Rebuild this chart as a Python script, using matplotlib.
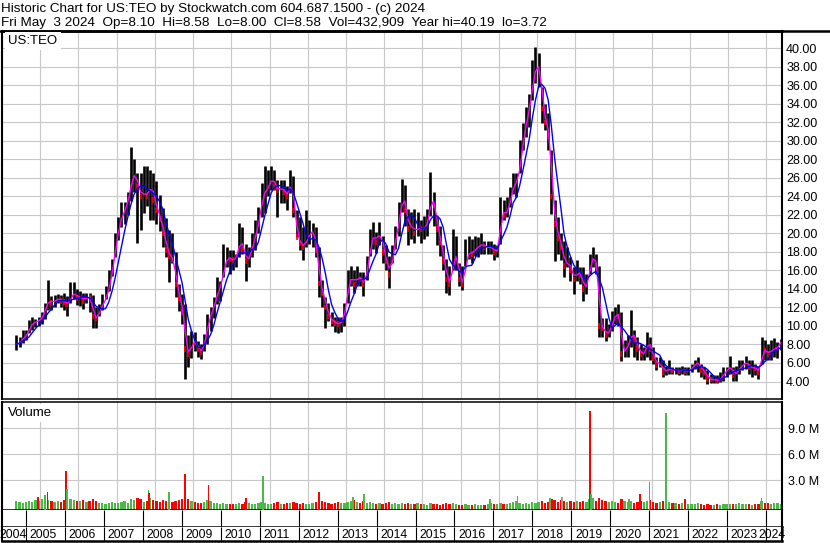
import matplotlib
matplotlib.use("Agg")
import matplotlib.pyplot as plt
import numpy as np
import pandas as pd

plt.rcParams["font.family"] = ["Liberation Sans", "DejaVu Sans"]

# ---- values: one bar per month, May 2004 .. May 2024 ----
start_year, start_month = 2004, 5

highs = [
    9.0, 8.8, 9.6, 9.6, 10.6, 11.0, 10.8, 11.0,                          # 2004
    11.5, 12.5, 15.0, 13.2, 13.4, 13.5, 13.4, 13.6, 13.2, 14.7, 14.7, 14.0,  # 2005
    13.8, 13.6, 13.6, 13.6, 13.3, 12.1, 12.4, 13.5, 14.3, 16.0, 17.2, 20.0,  # 2006
    21.8, 23.4, 23.4, 24.5, 29.3, 28.0, 26.5, 26.5, 27.3, 27.3, 26.9, 26.5,  # 2007
    25.7, 24.2, 22.8, 21.7, 20.4, 20.0, 18.0, 14.5, 13.5, 12.4, 9.0, 9.5,    # 2008
    9.3, 8.4, 8.0, 9.1, 11.3, 12.0, 13.1, 15.3, 14.9, 18.9, 18.5, 18.2,      # 2009
    18.2, 17.8, 21.1, 20.7, 18.9, 18.5, 20.0, 21.5, 22.9, 25.5, 27.3, 26.9,  # 2010
    27.3, 26.9, 25.8, 25.8, 25.8, 25.1, 26.9, 26.2, 22.5, 21.8, 20.7, 22.5,  # 2011
    21.5, 21.1, 20.7, 18.5, 15.0, 13.1, 12.5, 11.5, 11.0, 11.0, 11.0, 12.5,  # 2012
    16.1, 16.5, 16.1, 16.5, 15.8, 15.8, 17.6, 20.5, 21.2, 20.1, 21.2, 19.7,  # 2013
    18.7, 17.6, 18.7, 20.8, 23.4, 25.9, 25.2, 22.6, 22.3, 22.6, 22.3, 21.5,  # 2014
    21.9, 22.6, 26.6, 24.5, 21.9, 20.8, 18.7, 17.2, 16.5, 20.5, 19.7, 16.8,  # 2015
    16.5, 19.4, 19.7, 19.4, 19.7, 19.6, 20.0, 19.2, 19.2, 19.2, 18.9, 18.7,  # 2016
    23.9, 23.6, 23.9, 25.0, 26.5, 26.5, 30.1, 31.9, 33.7, 35.1, 38.7, 40.19,  # 2017
    39.5, 35.8, 34.0, 33.0, 29.0, 23.6, 21.8, 20.0, 19.2, 18.5, 17.4, 16.4,  # 2018
    17.1, 16.4, 16.4, 15.6, 17.8, 18.5, 17.8, 16.5, 10.9, 10.9, 10.2, 11.6,  # 2019
    12.0, 12.4, 11.5, 8.5, 9.0, 11.7, 9.6, 8.8, 8.1, 7.7, 9.4, 8.8,          # 2020
    7.7, 6.7, 6.7, 6.3, 5.7, 6.3, 5.6, 5.6, 5.6, 5.7, 5.6, 5.6,              # 2021
    5.9, 6.3, 6.7, 5.9, 5.6, 5.2, 4.8, 4.7, 4.7, 5.0, 5.6, 5.6,              # 2022
    6.8, 5.6, 5.7, 6.3, 6.3, 6.8, 6.3, 6.3, 5.9, 5.7, 8.8, 8.5,              # 2023
    8.1, 8.5, 8.7, 8.3, 8.6,                                                 # 2024
]
lows = [
    7.4, 7.7, 8.2, 8.5, 9.2, 9.6, 9.9, 10.0,
    10.2, 10.8, 11.7, 11.7, 12.1, 12.5, 12.1, 11.7, 11.1, 12.5, 12.9, 12.3,
    12.2, 11.8, 12.5, 11.5, 9.8, 9.8, 11.1, 11.7, 12.9, 13.8, 15.4, 17.5,
    19.3, 20.7, 21.0, 22.0, 23.5, 24.5, 19.0, 20.4, 22.2, 23.0, 21.5, 21.5,
    21.0, 20.3, 18.5, 17.5, 14.7, 16.8, 13.1, 11.6, 10.2, 4.3, 5.6, 6.5,
    7.3, 6.6, 6.4, 7.3, 8.0, 9.5, 10.9, 12.4, 12.7, 15.3, 16.4, 15.6,
    16.0, 16.4, 17.5, 17.8, 14.9, 16.4, 17.5, 18.2, 20.0, 21.8, 22.2, 24.0,
    24.7, 24.7, 21.8, 23.3, 23.3, 22.5, 24.4, 21.8, 19.6, 18.2, 17.1, 18.5,
    18.9, 18.5, 17.5, 13.1, 12.0, 9.8, 10.5, 10.0, 9.3, 9.2, 9.4, 10.0,
    12.5, 14.3, 13.6, 14.3, 14.3, 13.2, 15.0, 17.6, 18.3, 17.9, 18.7, 16.8,
    16.1, 14.1, 16.8, 18.3, 19.7, 22.3, 20.8, 18.7, 19.4, 19.0, 19.7, 19.0,
    19.4, 19.7, 21.9, 20.8, 18.7, 17.6, 16.1, 13.6, 13.4, 16.1, 16.1, 14.3,
    13.9, 16.5, 17.2, 16.8, 17.6, 17.4, 17.8, 17.8, 17.8, 17.8, 17.1, 17.4,
    18.9, 21.4, 21.8, 22.9, 24.3, 23.9, 26.5, 29.0, 30.4, 31.5, 34.4, 36.2,
    35.8, 31.9, 31.2, 29.0, 22.1, 17.0, 17.8, 17.1, 15.3, 16.4, 14.9, 13.5,
    14.9, 14.5, 12.7, 13.5, 15.6, 16.4, 15.6, 8.8, 8.8, 8.4, 8.8, 9.5,
    10.2, 10.0, 6.2, 6.6, 6.7, 7.7, 6.7, 6.3, 6.3, 6.3, 6.7, 6.3,
    5.9, 5.2, 5.6, 4.5, 4.7, 4.8, 4.8, 4.8, 4.7, 4.8, 4.7, 4.7,
    5.0, 5.4, 5.0, 4.5, 4.3, 3.72, 3.8, 3.8, 3.8, 3.9, 4.1, 4.5,
    4.8, 4.1, 4.1, 4.8, 5.2, 5.4, 4.8, 4.5, 4.7, 4.3, 5.9, 6.3,
    6.3, 6.3, 6.7, 6.5, 7.4,
]
closes = [
    8.0, 8.3, 8.8, 9.0, 10.0, 10.3, 10.5, 10.6,
    11.0, 12.2, 12.8, 12.5, 12.8, 13.0, 12.7, 12.6, 12.3, 13.3, 13.6, 13.0,
    13.2, 12.7, 13.2, 13.0, 11.0, 10.8, 11.8, 12.5, 13.2, 14.5, 16.5, 19.0,
    21.0, 22.0, 22.8, 24.0, 26.0, 26.5, 25.0, 24.0, 24.5, 24.0, 25.5, 23.6,
    22.5, 21.5, 20.0, 18.2, 17.5, 17.2, 14.5, 13.0, 11.5, 7.5, 6.9, 8.4,
    8.2, 7.5, 7.2, 8.7, 10.5, 11.5, 12.5, 13.8, 14.5, 16.5, 17.5, 17.2,
    17.1, 17.5, 19.6, 18.2, 17.0, 17.5, 19.0, 20.0, 21.8, 24.0, 24.7, 25.1,
    26.2, 25.0, 24.7, 24.9, 24.5, 24.0, 26.0, 22.5, 19.6, 18.9, 18.5, 19.5,
    20.0, 20.4, 18.2, 14.6, 13.5, 12.0, 11.0, 10.5, 10.3, 10.2, 10.5, 12.0,
    14.5, 15.5, 14.5, 15.5, 15.0, 14.5, 16.5, 19.0, 20.0, 19.0, 20.5, 18.0,
    17.0, 15.5, 18.0, 20.0, 21.5, 24.5, 22.5, 20.5, 21.0, 20.0, 20.8, 20.5,
    20.5, 21.5, 24.0, 23.0, 20.5, 19.0, 17.0, 15.0, 14.5, 17.5, 17.5, 15.0,
    14.5, 17.5, 18.0, 17.8, 18.5, 18.5, 19.0, 18.5, 18.5, 18.5, 18.0, 18.2,
    22.5, 22.0, 22.5, 24.0, 25.5, 25.5, 28.0, 30.5, 32.5, 34.0, 37.0, 38.0,
    38.0, 33.5, 32.0, 30.5, 24.0, 21.0, 19.5, 18.5, 16.5, 17.0, 16.0, 15.0,
    16.0, 15.5, 14.0, 14.5, 17.0, 17.5, 16.5, 10.0, 9.8, 9.0, 9.5, 10.5,
    11.5, 11.0, 7.0, 7.5, 8.0, 9.5, 8.5, 7.5, 7.0, 7.0, 8.5, 7.5,
    6.5, 5.8, 6.0, 5.0, 5.3, 5.3, 5.2, 5.3, 5.1, 5.3, 5.1, 5.2,
    5.5, 6.0, 6.0, 5.2, 5.0, 4.3, 4.2, 4.2, 4.1, 4.3, 5.0, 5.2,
    5.8, 4.7, 5.0, 5.6, 5.8, 6.2, 5.5, 5.5, 5.4, 5.0, 7.5, 7.3,
    7.0, 7.5, 7.5, 7.8, 8.58,
]
# typical daily volume in each month, millions of shares
volumes = [
    0.6, 0.5, 0.4, 0.5, 0.6, 0.5, 0.7, 0.6,
    0.8, 0.9, 0.7, 0.6, 0.5, 0.6, 0.5, 0.7, 0.9, 0.8, 0.7, 0.6,
    0.6, 0.7, 0.5, 0.6, 0.8, 0.6, 0.4, 0.4, 0.3, 0.4, 0.5, 0.4,
    0.4, 0.5, 0.6, 0.4, 0.8, 0.7, 0.9, 0.8, 0.5, 0.6, 1.0, 0.7,
    0.6, 0.5, 0.7, 0.6, 0.8, 0.5, 0.6, 0.7, 0.8, 1.0, 0.8, 0.6,
    0.5, 0.4, 0.4, 0.5, 0.7, 0.6, 0.4, 0.4, 0.3, 0.4, 0.3, 0.3,
    0.3, 0.3, 0.4, 0.3, 0.5, 0.4, 0.3, 0.3, 0.4, 0.5, 0.4, 0.3,
    0.3, 0.4, 0.5, 0.3, 0.3, 0.4, 0.4, 0.5, 0.4, 0.3, 0.4, 0.3,
    0.3, 0.4, 0.5, 0.8, 0.6, 0.5, 0.4, 0.3, 0.4, 0.5, 0.4, 0.4,
    0.5, 0.6, 0.7, 0.5, 0.4, 0.6, 0.4, 0.5, 0.4, 0.3, 0.4, 0.3,
    0.4, 0.5, 0.3, 0.4, 0.3, 0.4, 0.3, 0.4, 0.3, 0.3, 0.4, 0.3,
    0.3, 0.2, 0.4, 0.3, 0.3, 0.2, 0.3, 0.4, 0.3, 0.4, 0.3, 0.2,
    0.2, 0.3, 0.2, 0.2, 0.3, 0.2, 0.2, 0.2, 0.3, 0.4, 0.3, 0.3,
    0.4, 0.3, 0.3, 0.4, 0.5, 0.6, 0.4, 0.3, 0.4, 0.3, 0.5, 0.4,
    0.5, 0.6, 0.4, 0.5, 0.8, 0.7, 0.5, 0.7, 0.6, 0.5, 0.6, 0.5,
    0.6, 0.5, 0.6, 0.5, 0.8, 0.9, 0.6, 1.0, 0.7, 0.6, 0.5, 0.6,
    0.5, 0.4, 0.8, 0.6, 0.5, 0.6, 0.4, 0.5, 0.6, 0.5, 0.6, 0.7,
    0.5, 0.4, 0.5, 0.6, 0.7, 0.5, 0.4, 0.4, 0.3, 0.4, 0.5, 0.3,
    0.3, 0.3, 0.4, 0.3, 0.2, 0.3, 0.2, 0.2, 0.3, 0.2, 0.3, 0.3,
    0.3, 0.3, 0.3, 0.4, 0.3, 0.3, 0.3, 0.2, 0.3, 0.3, 0.6, 0.4,
    0.4, 0.3, 0.4, 0.4, 0.3,
]
# single days with unusual volume
spike_dates = ["2004-12-10", "2005-02-15", "2005-03-10", "2005-09-05", "2005-09-12",
               "2007-11-01", "2007-11-08", "2008-05-12", "2008-10-13", "2009-05-28",
               "2010-05-18", "2010-10-27", "2012-04-16", "2013-03-11", "2013-06-20",
               "2016-10-05", "2017-06-28", "2018-05-04", "2018-08-24", "2019-05-22",
               "2019-06-01", "2020-05-26", "2020-09-12", "2020-12-10", "2021-05-19",
               "2021-11-17", "2023-11-14"]
spike_volumes = [1.1, 1.3, 1.6, 4.1, 2.0,
                 1.9, 1.5, 1.6, 3.7, 2.5,
                 1.0, 3.5, 1.7, 1.1, 1.4,
                 0.85, 1.2, 1.0, 1.1, 11.0,
                 1.4, 0.8, 1.4, 2.8, 10.8,
                 0.85, 1.0]
spike_moves = ["down", "up", "down", "down", "up",
               "up", "down", "up", "down", "down",
               "down", "up", "down", "up", "up",
               "up", "up", "up", "flat", "down",
               "up", "up", "down", "up", "up",
               "down", "up"]

years = list(range(2004, 2025))
price_ticks = list(range(4, 42, 2))
volume_ticks = [3, 6, 9]

title_1 = "Historic Chart for US:TEO by Stockwatch.com 604.687.1500 - (c) 2024"
title_2 = ("Fri May  3 2024  Op=8.10  Hi=8.58  Lo=8.00  Cl=8.58  "
           "Vol=432,909  Year hi=40.19  lo=3.72")

W, H = 830, 543
PX_PER_YEAR = 38.95
GRID = "#c8c8c8"
COLORS = {"up": "#4cb848", "down": "#ff0000", "flat": "#a0a0a0"}


def px_to_year(px):
    # the 2005 line sits 26 px from the left edge of the picture
    return 2005 + (px - 26) / PX_PER_YEAR


def box(left, top, right, bottom):
    return [left / W, 1 - bottom / H, (right - left) / W, (bottom - top) / H]


def frame(ax, top=1.0, bottom=1.0, side=1.5):
    for name, lw in (("top", top), ("bottom", bottom), ("left", side), ("right", side)):
        ax.spines[name].set_visible(lw > 0)
        ax.spines[name].set_linewidth(lw)
        ax.spines[name].set_color("black")


n = len(closes)
t = start_year + (start_month - 1 + np.arange(n) + 0.5) / 12
closes_s = pd.Series(closes)
fast = closes_s.rolling(2, min_periods=1).mean()
slow = closes_s.rolling(5, min_periods=1).mean()
change = closes_s.diff().fillna(0)

spike_t = [d.year + (d.dayofyear - 0.5) / 365 for d in pd.to_datetime(spike_dates)]

xlim = (px_to_year(2), px_to_year(782))

fig = plt.figure(figsize=(W / 100, H / 100), dpi=100)

# ---- price panel ----
ax = fig.add_axes(box(2, 31, 782, 399))
ax.set_xlim(*xlim)
ax.set_ylim(2.11, 41.87)
ax.set_xticks(years)
ax.set_yticks(price_ticks)
ax.set_yticklabels([f"{v:.2f}" for v in price_ticks])
ax.yaxis.tick_right()
ax.tick_params(axis="x", length=0, labelbottom=False)
ax.tick_params(axis="y", length=0, pad=3, labelsize=9)
ax.grid(True, color=GRID, linewidth=0.8)
ax.set_axisbelow(True)
frame(ax, top=1.8, bottom=1.1)

ax.vlines(t, lows, highs, colors="black", linewidth=1.9, zorder=2)
down = change < 0
ax.vlines(t[down], closes_s[down] - 0.3, closes_s[down] + 0.3,
          colors="red", linewidth=1.2, zorder=2.5)
ax.plot(t, fast, color="#ff00ff", linewidth=1.0, zorder=3)
ax.plot(t, slow, color="#0000ff", linewidth=1.0, zorder=4)

fig.text(8 / W, 1 - 41 / H, "US:TEO", fontsize=9.5, va="center", ha="left",
         bbox=dict(facecolor="white", edgecolor="none", pad=2.5))

# ---- volume panel ----
axv = fig.add_axes(box(2, 402, 782, 510))
axv.set_xlim(*xlim)
vbottom, vtop = -0.43, 12.03
axv.set_ylim(vbottom, vtop)
axv.set_xticks(years)
axv.set_yticks(volume_ticks)
axv.set_yticklabels([f"{v:.1f} M" for v in volume_ticks])
axv.yaxis.tick_right()
axv.tick_params(axis="x", length=0, labelbottom=False)
axv.tick_params(axis="y", length=0, pad=4, labelsize=9)
axv.grid(True, color=GRID, linewidth=0.8)
axv.set_axisbelow(True)
frame(axv, top=1.1, bottom=1.1)

vol_colors = [COLORS["up"] if c >= 0 else COLORS["down"] for c in change]
axv.bar(t, np.array(volumes) - vbottom, bottom=vbottom, width=0.06,
        color=vol_colors, linewidth=0, zorder=2)
axv.bar(spike_t, np.array(spike_volumes) - vbottom, bottom=vbottom, width=0.045,
        color=[COLORS[m] for m in spike_moves], linewidth=0, zorder=3)

fig.text(8 / W, 1 - 413 / H, "Volume", fontsize=9.5, va="center", ha="left",
         bbox=dict(facecolor="white", edgecolor="none", pad=2.5))

# ---- date rows ----
axt = fig.add_axes(box(2, 510, 782, 527))
axl = fig.add_axes(box(2, 527, 782, 541))
for a in (axt, axl):
    a.set_xlim(*xlim)
    a.set_ylim(0, 1)
    a.set_xticks([])
    a.set_yticks([])
    a.vlines(years[1:], 0, 1, colors="black", linewidth=0.8)
    frame(a, top=0, bottom=1.8)

for yr in years:
    if yr == years[0]:
        x = px_to_year(-1)
    elif yr == years[-1]:
        x = px_to_year(758)
    else:
        x = yr + 3.7 / PX_PER_YEAR
    axl.text(x, 0.45, str(yr), fontsize=8.8, ha="left", va="center", clip_on=False)

# ---- header ----
fig.add_artist(plt.Line2D([0, 1], [1 - 30.5 / H] * 2, color="black", linewidth=1.8))
fig.text(1 / W, 1 - 12 / H, title_1, fontsize=9.7, va="baseline", ha="left")
fig.text(1 / W, 1 - 26 / H, title_2, fontsize=9.7, va="baseline", ha="left")

fig.savefig("out.png", dpi=100, facecolor="white")
